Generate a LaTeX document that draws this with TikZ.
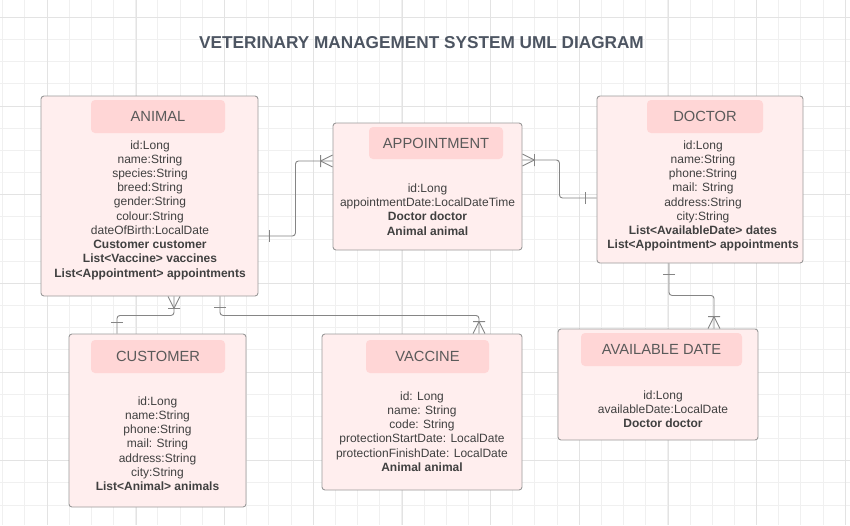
\documentclass[tikz,border=0pt]{standalone}
\usepackage{fontspec}
\setmainfont{Liberation Sans}
\definecolor{gridminor}{HTML}{F0F0F0}
\definecolor{gridmajor}{HTML}{E3E3E3}
\definecolor{boxfill}{HTML}{FFEEEE}
\definecolor{boxline}{HTML}{999999}
\definecolor{hdrfill}{HTML}{FFD6D6}
\definecolor{hdrtext}{HTML}{5A5A5A}
\definecolor{bodytext}{HTML}{404040}
\definecolor{titletext}{HTML}{4D5562}
\definecolor{connc}{HTML}{858585}
\begin{document}
\begin{tikzpicture}[x=1pt,y=-1pt,
  box/.style={draw=boxline, fill=boxfill, rounded corners=3pt, inner sep=0pt, line width=0.9pt},
  hdr/.style={fill=hdrfill, rounded corners=4pt, inner sep=0pt, text=hdrtext, font=\fontsize{14.7pt}{17pt}\selectfont},
  txt/.style={align=center, inner sep=0pt, text=bodytext, font=\fontsize{12pt}{14.22pt}\selectfont},
  conn/.style={draw=connc, line width=0.9pt, rounded corners=3pt},
  connm/.style={draw=connc, line width=0.9pt},
  markmany/.pic={\draw[connm] (12,0) -- (0,-6) (12,0) -- (0,6) (12,-6) -- (12,6);},
  markone/.pic={\draw[connm] (11,-6) -- (11,6);}
]
\useasboundingbox (0,0) rectangle (850,525);
\fill[white] (0,0) rectangle (850,525);
% grid
\foreach \i in {0,...,38} \draw[gridminor, line width=0.8pt] ({2.7+22.17*\i},0) -- ++(0,525);
\foreach \i in {0,...,23} \draw[gridminor, line width=0.8pt] (0,{17.3+22.17*\i}) -- ++(850,0);
\foreach \i in {0,...,9} \draw[gridmajor, line width=0.8pt] ({47.3+88.68*\i},0) -- ++(0,525);
\foreach \i in {0,...,5} \draw[gridmajor, line width=0.8pt] (0,{17.3+88.68*\i}) -- ++(850,0);

% title
\node[text=titletext, font=\fontsize{17.2pt}{20pt}\selectfont\bfseries] (title) at (421.5,43) {VETERINARY MANAGEMENT SYSTEM UML DIAGRAM};

% boxes
\node[box, minimum width=217pt, minimum height=200pt] (animal) at (149.5,196) {};
\node[box, minimum width=189pt, minimum height=127pt] (appt) at (427.5,186.5) {};
\node[box, minimum width=206pt, minimum height=167pt] (doctor) at (700,179.5) {};
\node[box, minimum width=177pt, minimum height=173pt] (customer) at (157.5,420.5) {};
\node[box, minimum width=200pt, minimum height=156pt] (vaccine) at (422,412) {};
\node[box, minimum width=200pt, minimum height=111pt] (avail) at (658,384.5) {};

% headers
\node[hdr, minimum width=134pt, minimum height=33pt] (animalH) at (158,116.5) {ANIMAL};
\node[hdr, minimum width=134pt, minimum height=32pt] (apptH) at (436,143) {APPOINTMENT};
\node[hdr, minimum width=116pt, minimum height=33pt] (doctorH) at (705,116.5) {DOCTOR};
\node[hdr, minimum width=134pt, minimum height=33pt] (customerH) at (158,356.5) {CUSTOMER};
\node[hdr, minimum width=123pt, minimum height=33pt] (vaccineH) at (427.5,356.5) {VACCINE};
\node[hdr, minimum width=161pt, minimum height=33pt] (availH) at (661.5,349.5) {AVAILABLE DATE};

% attributes
\node[txt] (animalT) at (150,210) {id:Long\\name:String\\species:String\\breed:String\\gender:String\\colour:String\\dateOfBirth:LocalDate\\\textbf{Customer customer}\\\textbf{List<Vaccine> vaccines}\\\textbf{List<Appointment> appointments}};
\node[txt] (apptT) at (427.5,209.5) {id:Long\\appointmentDate:LocalDateTime\\\textbf{Doctor doctor}\\\textbf{Animal animal}};
\node[txt] (doctorT) at (703,196) {id:Long\\name:String\\phone:String\\mail: String\\address:String\\city:String\\\textbf{List<AvailableDate> dates}\\\textbf{List<Appointment> appointments}};
\node[txt] (customerT) at (157.5,443.5) {id:Long\\name:String\\phone:String\\mail: String\\address:String\\city:String\\\textbf{List<Animal> animals}};
\node[txt] (vaccineT) at (422,431.5) {id: Long\\name: String\\code: String\\protectionStartDate: LocalDate\\protectionFinishDate: LocalDate\\\textbf{Animal animal}};
\node[txt] (availT) at (663,409) {id:Long\\availableDate:LocalDate\\\textbf{Doctor doctor}};

% connectors
\draw[conn] ([yshift=-40pt]animal.east) -- ++(37,0) |- ([yshift=25.5pt]appt.west);
\pic at ([yshift=-40pt]animal.east) {markone};
\pic[rotate=180] at ([yshift=25.5pt]appt.west) {markmany};

\draw[conn] ([yshift=26.5pt]appt.east) -- ++(37,0) |- ([yshift=-18.5pt]doctor.west);
\pic at ([yshift=26.5pt]appt.east) {markmany};
\pic[rotate=180] at ([yshift=-18.5pt]doctor.west) {markone};

\draw[conn] ([xshift=24.5pt]animal.south) -- ++(0,19) -| ([xshift=-40.5pt]customer.north);
\pic[rotate=-90] at ([xshift=24.5pt]animal.south) {markmany};
\pic[rotate=90] at ([xshift=-40.5pt]customer.north) {markone};

\draw[conn] ([xshift=70.5pt]animal.south) -- ++(0,19) -| ([xshift=57pt]vaccine.north);
\pic[rotate=-90] at ([xshift=70.5pt]animal.south) {markone};
\pic[rotate=90] at ([xshift=57pt]vaccine.north) {markmany};

\draw[conn] ([xshift=-31pt]doctor.south) -- ++(0,32) -| ([xshift=56pt]avail.north);
\pic[rotate=-90] at ([xshift=-31pt]doctor.south) {markone};
\pic[rotate=90] at ([xshift=56pt]avail.north) {markmany};
\end{tikzpicture}
\end{document}
